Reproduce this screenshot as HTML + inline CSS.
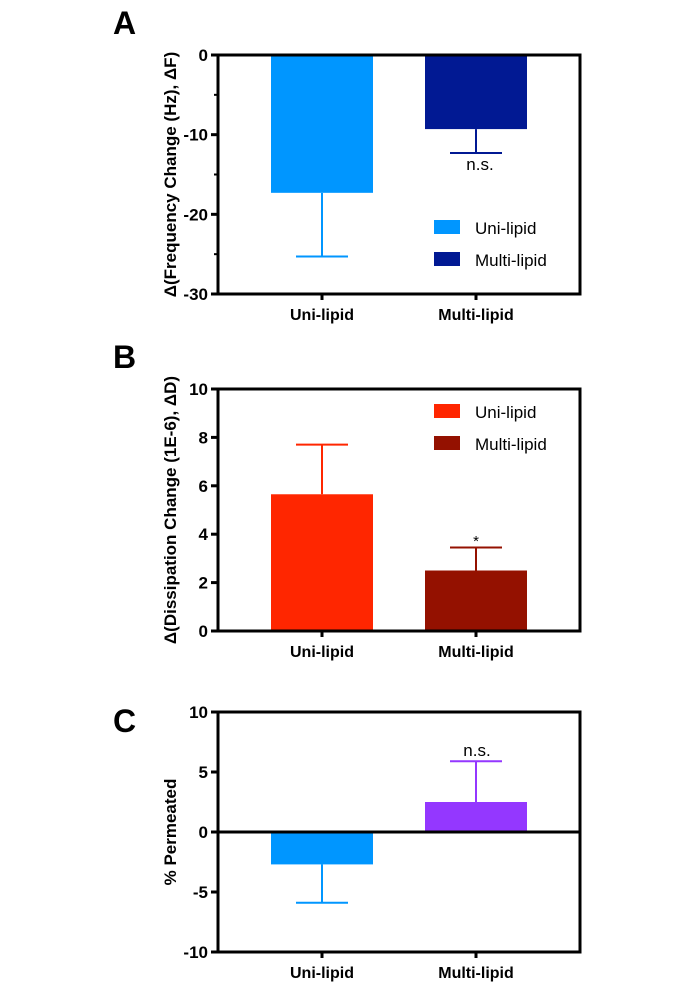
<!DOCTYPE html>
<html><head><meta charset="utf-8"><style>
body{margin:0;background:#fff;}
svg{display:block;font-family:"Liberation Sans",Arial,sans-serif;}
</style></head><body>
<svg id="fig" width="700" height="992" xmlns="http://www.w3.org/2000/svg"></svg>
<script>
const categories = ["Uni-lipid","Multi-lipid"];
const freqValues = [-17.3,-9.3];
const freqErrors = [-25.3,-12.3];
const dissValues = [5.65,2.5];
const dissErrors = [7.7,3.45];
const permValues = [-2.7,2.5];
const permErrors = [-5.9,5.9];
const freqTicks = [0,-10,-20,-30];
const dissTicks = [0,2,4,6,8,10];
const permTicks = [10,5,0,-5,-10];

const NS="http://www.w3.org/2000/svg";
const svg=document.getElementById('fig');
function el(tag,attrs,parent,text){const e=document.createElementNS(NS,tag);for(const k in attrs)e.setAttribute(k,attrs[k]);if(text!==undefined)e.textContent=text;(parent||svg).appendChild(e);return e;}

function panel(o){
  const g=el('g',{});
  
  
  const L=218,R=580,T=o.top,B=o.bottom;
  const y=v=>B-(v-o.min)/(o.max-o.min)*(B-T);
  const xc=[322,476];
  const t=el('text',{x:113,y:o.letterY,'font-size':32,'font-weight':'bold'},g,o.letter);
  
  
  o.values.forEach((v,i)=>{
    const top=Math.min(y(v),y(0)),h=Math.abs(y(v)-y(0));
    const r=el('rect',{x:xc[i]-51,y:top,width:102,height:h,fill:o.colors[i]},g);
    
    
    const e=o.errors[i];
    const eb=el('path',{d:`M${xc[i]},${y(v)}V${y(e)}M${xc[i]-26},${y(e)}H${xc[i]+26}`,stroke:o.colors[i],'stroke-width':2,fill:'none'},g);
    
    
  });
  const f=el('rect',{x:L,y:T,width:R-L,height:B-T,fill:'none',stroke:'#000','stroke-width':3},g);
  
  
  if(o.zeroLine){const z=el('line',{x1:L,x2:R,y1:y(0),y2:y(0),stroke:'#000','stroke-width':3},g);
    }
  o.ticks.forEach(v=>{
    el('line',{x1:L-7,x2:L,y1:y(v),y2:y(v),stroke:'#000','stroke-width':3},g);
    const tl=el('text',{x:L-10,y:y(v)+6,'font-size':17,'font-weight':'bold','text-anchor':'end'},g,String(v));
    
    
  });
  (o.minor||[]).forEach(v=>el('line',{x1:L-4,x2:L,y1:y(v),y2:y(v),stroke:'#000','stroke-width':2},g));
  categories.forEach((c,i)=>{
    el('line',{x1:xc[i],x2:xc[i],y1:B,y2:B+6,stroke:'#000','stroke-width':3},g);
    const cl=el('text',{x:xc[i],y:B+26,'font-size':16,'font-weight':'bold','text-anchor':'middle'},g,c);
    
    
  });
  const yt=el('text',{transform:`translate(176,${(T+B)/2}) rotate(-90)`,'font-size':17,'font-weight':'bold','text-anchor':'middle'},g,o.ytitle);
  
  
  if(o.legendY!==undefined){
    categories.forEach((c,i)=>{
      const ly=o.legendY+i*32;
      const s=el('rect',{x:434,y:ly,width:26,height:14,fill:o.colors[i]},g);
      
      
      const lt=el('text',{x:475,y:ly+14,'font-size':17},g,c);
      
      
    });
  }
  if(o.annot){const a=el('text',{x:o.annot.x,y:o.annot.y,'font-size':o.annot.size||17,'text-anchor':'middle'},g,o.annot.text);
    }
}

panel({letter:'A',letterY:34,top:55,bottom:294,min:-30,max:0,values:freqValues,errors:freqErrors,ticks:freqTicks,minor:[-5,-15,-25],
  colors:['#0096ff','#011993'],ytitle:'\u0394(Frequency Change (Hz), \u0394F)',legendY:220,annot:{x:480,y:170,text:'n.s.'}});
panel({letter:'B',letterY:368,top:389,bottom:631,min:0,max:10,values:dissValues,errors:dissErrors,ticks:dissTicks,
  colors:['#ff2600','#941100'],ytitle:'\u0394(Dissipation Change (1E-6), \u0394D)',legendY:404,annot:{x:476,y:546,text:'*',size:15}});
panel({letter:'C',letterY:732,top:712,bottom:952,min:-10,max:10,values:permValues,errors:permErrors,ticks:permTicks,zeroLine:true,
  colors:['#0096ff','#9437ff'],ytitle:'% Permeated',annot:{x:477,y:756,text:'n.s.'}});
</script>
</body></html>
